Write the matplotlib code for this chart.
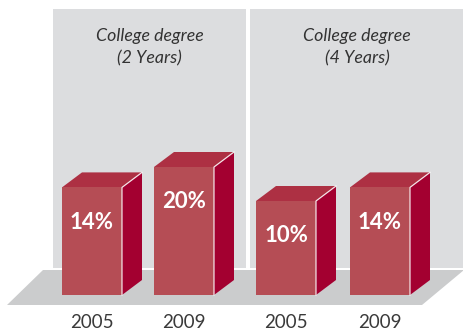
import matplotlib
matplotlib.use('Agg')
import matplotlib.pyplot as plt
from matplotlib.patches import Polygon, Rectangle

groups = ['College degree\n(2 Years)', 'College degree\n(4 Years)']
years = ['2005', '2009', '2005', '2009']
values = [14, 20, 10, 14]

FRONT = '#b54d55'
TOP = '#ad3043'
SIDE = '#a30030'
PANEL = '#dcdddf'
FLOOR = '#cbcccd'
TEXT = '#333333'

W, H = 464, 330
base_y = 295
bar_w = 60
dx, dy = 20, 15
px_base, px_per_pct = 60, 3.4

fig = plt.figure(figsize=(W / 100, H / 100), dpi=100)
ax = fig.add_axes([0, 0, 1, 1])
ax.set_xlim(0, W)
ax.set_ylim(H, 0)
ax.axis('off')

# background panels, one per group
panels = [(53, 246), (250, 464)]
for (x0, x1), title in zip(panels, groups):
    ax.add_patch(Rectangle((x0, 9), x1 - x0, 259, color=PANEL, lw=0))
    ax.text((x0 + x1) / 2, 47, title, ha='center', va='center', style='italic',
            fontsize=12.8, color=TEXT, family=['Lato', 'DejaVu Sans'], linespacing=1.5)

# floor
ax.add_patch(Polygon([(43, 270), (W, 270), (422, 305), (7, 305)], closed=True,
                     color=FLOOR, lw=0))

lefts = [62, 154, 256, 350]
for x, v, yr in zip(lefts, values, years):
    h = px_base + px_per_pct * v
    top = base_y - h
    ax.add_patch(Polygon([(x + bar_w, top), (x + bar_w + dx, top - dy),
                          (x + bar_w + dx, base_y - dy), (x + bar_w, base_y)],
                         closed=True, color=SIDE, lw=0))
    ax.add_patch(Polygon([(x, top), (x + dx, top - dy), (x + bar_w + dx, top - dy),
                          (x + bar_w, top)], closed=True, color=TOP, lw=0))
    ax.add_patch(Rectangle((x, top), bar_w, h, color=FRONT, lw=0))
    ax.plot([x + bar_w, x + bar_w, x + bar_w + dx], [base_y, top, top - dy],
            color='white', lw=0.9, alpha=0.85)
    ax.text(x + bar_w / 2, top + 35, f'{v}%', ha='center', va='center',
            fontsize=16, fontweight='bold', color='white', family=['Lato', 'DejaVu Sans'])
    ax.text(x + bar_w / 2, 322, yr, ha='center', va='center',
            fontsize=13.5, color='#3a3a3a', family=['Lato', 'DejaVu Sans'])

fig.savefig('out.png', dpi=100)
